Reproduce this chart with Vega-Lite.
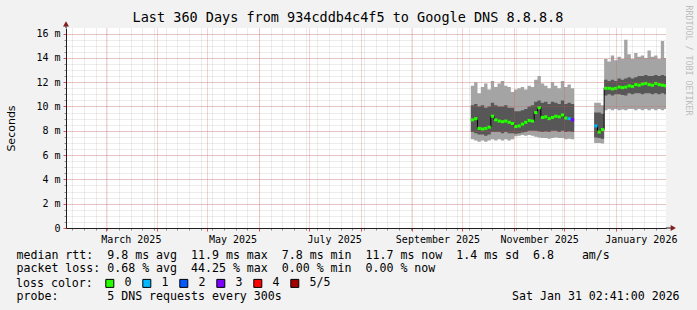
{
  "$schema": "https://vega.github.io/schema/vega-lite/v6.json",
  "width": 600,
  "height": 200,
  "autosize": "none",
  "padding": {"left": 66, "top": 28, "right": 31, "bottom": 82},
  "background": "#f2f2f2",
  "title": {
    "text": "Last 360 Days from 934cddb4c4f5 to Google DNS 8.8.8.8",
    "font": "DejaVu Sans Mono",
    "fontSize": 13.5,
    "fontWeight": "normal",
    "color": "#000000",
    "anchor": "middle",
    "frame": "group",
    "dx": -18,
    "dy": 24,
    "offset": 5
  },
  "config": {
    "view": {"stroke": null, "fill": "#ffffff"},
    "axis": {"labelColor": "#000000", "titleColor": "#000000", "titleFontWeight": "normal"}
  },
  "datasets": {
    "smoke": [
      {"t": "2025-10-06", "seg": "a", "lo": 7.3, "lo2": 7.9, "med": 8.9, "hi2": 10.1, "hi": 11.7, "loss": "0"},
      {"t": "2025-10-08", "seg": "a", "lo": 7.2, "lo2": 7.8, "med": 9.0, "hi2": 10.2, "hi": 12.0, "loss": "0"},
      {"t": "2025-10-10", "seg": "a", "lo": 7.1, "lo2": 7.7, "med": 8.2, "hi2": 10.0, "hi": 11.1, "loss": "0"},
      {"t": "2025-10-12", "seg": "a", "lo": 7.2, "lo2": 7.7, "med": 8.15, "hi2": 10.1, "hi": 11.6, "loss": "0"},
      {"t": "2025-10-14", "seg": "a", "lo": 7.1, "lo2": 7.6, "med": 8.2, "hi2": 9.9, "hi": 11.9, "loss": "0"},
      {"t": "2025-10-16", "seg": "a", "lo": 7.2, "lo2": 7.7, "med": 8.3, "hi2": 10.0, "hi": 11.4, "loss": "0"},
      {"t": "2025-10-18", "seg": "a", "lo": 7.3, "lo2": 7.9, "med": 9.2, "hi2": 10.3, "hi": 12.1, "loss": "0"},
      {"t": "2025-10-20", "seg": "a", "lo": 7.2, "lo2": 7.9, "med": 8.9, "hi2": 10.1, "hi": 11.6, "loss": "0"},
      {"t": "2025-10-22", "seg": "a", "lo": 7.3, "lo2": 7.9, "med": 8.8, "hi2": 10.0, "hi": 11.9, "loss": "0"},
      {"t": "2025-10-24", "seg": "a", "lo": 7.2, "lo2": 7.8, "med": 8.75, "hi2": 10.0, "hi": 12.1, "loss": "0"},
      {"t": "2025-10-26", "seg": "a", "lo": 7.3, "lo2": 7.9, "med": 8.8, "hi2": 10.1, "hi": 11.7, "loss": "0"},
      {"t": "2025-10-28", "seg": "a", "lo": 7.2, "lo2": 7.8, "med": 8.7, "hi2": 9.9, "hi": 11.6, "loss": "0"},
      {"t": "2025-10-30", "seg": "a", "lo": 7.3, "lo2": 7.8, "med": 8.6, "hi2": 9.9, "hi": 11.2, "loss": "0"},
      {"t": "2025-11-01", "seg": "a", "lo": 7.55, "lo2": 7.75, "med": 8.35, "hi2": 9.6, "hi": 11.4, "loss": "0"},
      {"t": "2025-11-03", "seg": "a", "lo": 7.6, "lo2": 7.8, "med": 8.4, "hi2": 9.6, "hi": 11.5, "loss": "0"},
      {"t": "2025-11-05", "seg": "a", "lo": 7.65, "lo2": 7.85, "med": 8.55, "hi2": 9.7, "hi": 11.6, "loss": "0"},
      {"t": "2025-11-07", "seg": "a", "lo": 7.6, "lo2": 7.9, "med": 8.7, "hi2": 9.8, "hi": 11.4, "loss": "0"},
      {"t": "2025-11-09", "seg": "a", "lo": 7.65, "lo2": 8.0, "med": 8.85, "hi2": 10.0, "hi": 11.7, "loss": "0"},
      {"t": "2025-11-11", "seg": "a", "lo": 7.6, "lo2": 8.0, "med": 8.8, "hi2": 10.1, "hi": 11.6, "loss": "0"},
      {"t": "2025-11-13", "seg": "a", "lo": 7.5, "lo2": 8.0, "med": 9.5, "hi2": 10.4, "hi": 12.2, "loss": "0"},
      {"t": "2025-11-15", "seg": "a", "lo": 7.45, "lo2": 7.95, "med": 9.9, "hi2": 10.5, "hi": 12.5, "loss": "0"},
      {"t": "2025-11-17", "seg": "a", "lo": 7.4, "lo2": 7.9, "med": 9.1, "hi2": 10.3, "hi": 11.9, "loss": "0"},
      {"t": "2025-11-19", "seg": "a", "lo": 7.4, "lo2": 7.95, "med": 9.15, "hi2": 10.4, "hi": 11.7, "loss": "0"},
      {"t": "2025-11-21", "seg": "a", "lo": 7.35, "lo2": 7.9, "med": 9.0, "hi2": 10.2, "hi": 11.5, "loss": "0"},
      {"t": "2025-11-23", "seg": "a", "lo": 7.4, "lo2": 8.0, "med": 9.1, "hi2": 10.4, "hi": 12.0, "loss": "0"},
      {"t": "2025-11-25", "seg": "a", "lo": 7.45, "lo2": 8.0, "med": 9.2, "hi2": 10.3, "hi": 11.7, "loss": "0"},
      {"t": "2025-11-27", "seg": "a", "lo": 7.4, "lo2": 7.9, "med": 9.15, "hi2": 10.2, "hi": 11.5, "loss": "0"},
      {"t": "2025-11-29", "seg": "a", "lo": 7.4, "lo2": 8.0, "med": 9.3, "hi2": 10.5, "hi": 12.1, "loss": "0"},
      {"t": "2025-12-01", "seg": "a", "lo": 7.3, "lo2": 7.9, "med": 9.05, "hi2": 10.2, "hi": 11.6, "loss": "0"},
      {"t": "2025-12-03", "seg": "a", "lo": 7.35, "lo2": 7.95, "med": 9.0, "hi2": 10.3, "hi": 11.8, "loss": "1"},
      {"t": "2025-12-05", "seg": "a", "lo": 7.3, "lo2": 7.9, "med": 8.9, "hi2": 10.2, "hi": 11.5, "loss": "3"},
      {"t": "2025-12-07", "seg": "a", "lo": 7.3, "lo2": 7.9, "med": null, "hi2": 10.2, "hi": 11.5, "loss": null},
      {"t": "2025-12-19", "seg": "b", "lo": 7.0, "lo2": 7.45, "med": 8.4, "hi2": 9.5, "hi": 10.3, "loss": "1"},
      {"t": "2025-12-21", "seg": "b", "lo": 7.0, "lo2": 7.4, "med": 7.9, "hi2": 9.5, "hi": 10.3, "loss": "0"},
      {"t": "2025-12-23", "seg": "b", "lo": 6.95, "lo2": 7.35, "med": 8.1, "hi2": 9.4, "hi": 10.1, "loss": "0"},
      {"t": "2025-12-25", "seg": "b", "lo": 9.7, "lo2": 10.9, "med": 11.5, "hi2": 12.2, "hi": 13.9, "loss": "0"},
      {"t": "2025-12-27", "seg": "b", "lo": 9.8, "lo2": 11.0, "med": 11.5, "hi2": 12.1, "hi": 13.7, "loss": "0"},
      {"t": "2025-12-29", "seg": "b", "lo": 9.7, "lo2": 10.9, "med": 11.45, "hi2": 12.2, "hi": 14.2, "loss": "0"},
      {"t": "2025-12-31", "seg": "b", "lo": 9.8, "lo2": 11.0, "med": 11.5, "hi2": 12.1, "hi": 13.8, "loss": "0"},
      {"t": "2026-01-02", "seg": "b", "lo": 9.7, "lo2": 11.0, "med": 11.6, "hi2": 12.3, "hi": 14.1, "loss": "0"},
      {"t": "2026-01-04", "seg": "b", "lo": 9.75, "lo2": 10.95, "med": 11.55, "hi2": 12.2, "hi": 13.9, "loss": "0"},
      {"t": "2026-01-06", "seg": "b", "lo": 9.7, "lo2": 10.9, "med": 11.6, "hi2": 12.3, "hi": 15.5, "loss": "0"},
      {"t": "2026-01-08", "seg": "b", "lo": 9.8, "lo2": 11.1, "med": 11.7, "hi2": 12.4, "hi": 14.3, "loss": "0"},
      {"t": "2026-01-10", "seg": "b", "lo": 9.8, "lo2": 11.0, "med": 11.65, "hi2": 12.3, "hi": 13.9, "loss": "0"},
      {"t": "2026-01-12", "seg": "b", "lo": 9.7, "lo2": 11.1, "med": 11.8, "hi2": 12.4, "hi": 14.4, "loss": "0"},
      {"t": "2026-01-14", "seg": "b", "lo": 9.8, "lo2": 11.1, "med": 11.75, "hi2": 12.5, "hi": 14.1, "loss": "0"},
      {"t": "2026-01-16", "seg": "b", "lo": 9.7, "lo2": 11.0, "med": 11.85, "hi2": 12.5, "hi": 14.2, "loss": "0"},
      {"t": "2026-01-18", "seg": "b", "lo": 9.8, "lo2": 11.1, "med": 11.9, "hi2": 12.6, "hi": 14.0, "loss": "0"},
      {"t": "2026-01-20", "seg": "b", "lo": 9.7, "lo2": 11.1, "med": 11.8, "hi2": 12.5, "hi": 14.6, "loss": "0"},
      {"t": "2026-01-22", "seg": "b", "lo": 9.8, "lo2": 11.0, "med": 11.75, "hi2": 12.5, "hi": 14.1, "loss": "0"},
      {"t": "2026-01-24", "seg": "b", "lo": 9.7, "lo2": 11.1, "med": 11.9, "hi2": 12.6, "hi": 14.2, "loss": "0"},
      {"t": "2026-01-26", "seg": "b", "lo": 9.8, "lo2": 11.0, "med": 11.8, "hi2": 12.5, "hi": 13.9, "loss": "0"},
      {"t": "2026-01-28", "seg": "b", "lo": 9.7, "lo2": 11.1, "med": 11.75, "hi2": 12.6, "hi": 15.4, "loss": "0"},
      {"t": "2026-01-30", "seg": "b", "lo": 9.8, "lo2": 11.0, "med": 11.7, "hi2": 12.5, "hi": 14.0, "loss": "0"},
      {"t": "2026-01-31T02:41:00Z", "seg": "b", "lo": 9.8, "lo2": 11.0, "med": null, "hi2": 12.5, "hi": 14.0, "loss": null}
    ],
    "arrows": [
      {"dir": "up", "t": "2025-02-05T02:41:00Z", "v": 16.46, "t2": "2025-02-05T02:41:00Z", "v2": 16.8},
      {"dir": "right", "t": "2026-01-31T02:41:00Z", "v": 0, "t2": "2026-02-04T12:00:00Z", "v2": 0}
    ]
  },
  "layer": [
    {
      "data": {"name": "smoke"},
      "mark": {"type": "area", "interpolate": "step-after", "color": "#a4a4a4", "opacity": 1},
      "encoding": {
        "x": {
          "field": "t", "type": "temporal",
          "scale": {"type": "utc", "domain": [{"year": 2025, "month": 2, "date": 5, "hours": 2, "minutes": 41, "utc": true}, {"year": 2026, "month": 1, "date": 31, "hours": 2, "minutes": 41, "utc": true}]},
          "axis": {
            "orient": "bottom",
            "tickCount": {"interval": "week", "step": 1},
            "grid": true, "gridColor": "#8f8f8f", "gridOpacity": 0.35, "gridDash": [1, 1],
            "labels": false, "domain": false,
            "ticks": true, "tickColor": "#8f8f8f", "tickSize": 2,
            "zindex": 0,
            "title": "median rtt:\u00a0 9.8 ms avg\u00a0 11.9 ms max\u00a0 7.8 ms min\u00a0 11.7 ms now\u00a0 1.4 ms sd\u00a0 6.8\u00a0\u00a0\u00a0 am/s",
            "titleX": -50, "titleY": 21,
            "titleAlign": "left", "titleBaseline": "top",
            "titleFont": "DejaVu Sans Mono", "titleFontSize": 11.6, "titleLimit": 2000
          }
        },
        "y": {
          "field": "lo", "type": "quantitative",
          "scale": {"domain": [0, 16.46], "nice": false, "zero": true},
          "axis": {
            "orient": "left",
            "tickCount": 33,
            "grid": true, "gridColor": "#8f8f8f", "gridOpacity": 0.35, "gridDash": [1, 1],
            "labels": false, "domain": false,
            "ticks": true, "tickColor": "#8f8f8f", "tickSize": 2,
            "title": null, "zindex": 0
          }
        },
        "y2": {"field": "hi"},
        "detail": {"field": "seg"}
      }
    },
    {
      "data": {"name": "smoke"},
      "mark": {"type": "area", "interpolate": "step-after", "color": "#575757", "opacity": 1},
      "encoding": {
        "x": {
          "field": "t", "type": "temporal",
          "axis": {
            "orient": "bottom",
            "tickCount": {"interval": "month", "step": 1},
            "grid": true, "gridColor": "#de4f4f", "gridOpacity": 0.5, "gridDash": [1, 1],
            "labelExpr": "utcmonth(datum.value) % 2 == 0 ? utcFormat(datum.value, '%B %Y') : ''",
            "labelOffset": 25, "labelOverlap": false, "labelFlush": false, "labelBound": false,
            "labelPadding": 3, "labelBaseline": "top",
            "labelFont": "DejaVu Sans Mono", "labelFontSize": 10,
            "domain": true, "domainColor": "#1f1f1f", "domainWidth": 1,
            "ticks": true, "tickColor": "#de4f4f", "tickSize": 3,
            "title": "packet loss: 0.68 % avg\u00a0 44.25 % max\u00a0 0.00 % min\u00a0 0.00 % now",
            "titleX": -50, "titleY": 34.9,
            "titleAlign": "left", "titleBaseline": "top",
            "titleFont": "DejaVu Sans Mono", "titleFontSize": 11.6, "titleLimit": 2000,
            "zindex": 1
          }
        },
        "y": {
          "field": "lo2", "type": "quantitative",
          "axis": {
            "orient": "left",
            "values": [0, 2, 4, 6, 8, 10, 12, 14, 16],
            "grid": true, "gridColor": "#de4f4f", "gridOpacity": 0.5, "gridDash": [1, 1],
            "labelExpr": "datum.value == 0 ? '0' : datum.value + ' m'",
            "labelFont": "DejaVu Sans Mono", "labelFontSize": 10, "labelPadding": 3,
            "domain": true, "domainColor": "#1f1f1f",
            "ticks": true, "tickColor": "#de4f4f", "tickSize": 3,
            "title": "Seconds",
            "titleFont": "DejaVu Sans", "titleFontSize": 11,
            "titleX": -55, "titleY": 100, "titleAngle": 270,
            "titleAlign": "center", "titleBaseline": "middle",
            "zindex": 1
          }
        },
        "y2": {"field": "hi2"},
        "detail": {"field": "seg"}
      }
    },
    {
      "data": {"name": "smoke"},
      "mark": {"type": "line", "interpolate": "step-after", "color": "#000000", "strokeWidth": 1},
      "encoding": {
        "x": {
          "field": "t", "type": "temporal",
          "axis": {
            "orient": "bottom",
            "grid": false, "labels": false, "ticks": false, "domain": false,
            "title": "probe:\u00a0\u00a0\u00a0\u00a0\u00a0\u00a0 5 DNS requests every 300s\u00a0\u00a0\u00a0\u00a0\u00a0\u00a0\u00a0\u00a0\u00a0\u00a0\u00a0\u00a0\u00a0\u00a0\u00a0\u00a0\u00a0\u00a0\u00a0\u00a0\u00a0\u00a0\u00a0\u00a0\u00a0\u00a0\u00a0\u00a0\u00a0\u00a0\u00a0\u00a0 Sat Jan 31 02:41:00 2026",
            "titleX": -50, "titleY": 62.5,
            "titleAlign": "left", "titleBaseline": "top",
            "titleFont": "DejaVu Sans Mono", "titleFontSize": 11.6, "titleLimit": 2000
          }
        },
        "y": {
          "field": "med", "type": "quantitative",
          "axis": {
            "orient": "right",
            "grid": false, "labels": false, "ticks": false, "domain": false,
            "title": "RRDTOOL / TOBI OETIKER",
            "titleAngle": 90, "titleX": 21, "titleY": 32,
            "titleAlign": "center", "titleBaseline": "middle",
            "titleFont": "DejaVu Sans Mono", "titleFontSize": 8.3, "titleColor": "#bdbdbd"
          }
        },
        "detail": {"field": "seg"}
      }
    },
    {
      "data": {"name": "smoke"},
      "transform": [{"filter": "datum.loss != null"}],
      "mark": {"type": "tick", "orient": "horizontal", "size": 3.4, "thickness": 3, "xOffset": 1.67, "opacity": 1, "clip": true},
      "encoding": {
        "x": {"field": "t", "type": "temporal", "axis": null},
        "y": {"field": "med", "type": "quantitative", "axis": null},
        "color": {
          "field": "loss", "type": "nominal",
          "scale": {"domain": ["0", "1", "2", "3", "4", "5/5"], "range": ["#26ff00", "#00b8ff", "#0059ff", "#7e00ff", "#ff0000", "#a10000"]},
          "legend": {
            "title": "loss color:", "titleOrient": "left", "titlePadding": 11,
            "titleFont": "DejaVu Sans Mono", "titleFontSize": 11.6, "titleFontWeight": "normal", "titleColor": "#000000",
            "titleBaseline": "middle", "titleAnchor": "middle",
            "orient": "none", "legendX": -50, "legendY": 249.5,
            "direction": "horizontal", "columns": 6,
            "symbolType": "square", "symbolSize": 64,
            "symbolStrokeColor": "#000000", "symbolStrokeWidth": 1, "symbolOpacity": 1,
            "labelFont": "DejaVu Sans Mono", "labelFontSize": 11.6, "labelColor": "#000000",
            "labelOffset": 9, "columnPadding": 8
          }
        }
      }
    },
    {
      "data": {"name": "arrows"},
      "mark": {"type": "rule", "color": "#1f1f1f", "strokeWidth": 1},
      "encoding": {
        "x": {"field": "t", "type": "temporal", "axis": null},
        "x2": {"field": "t2"},
        "y": {"field": "v", "type": "quantitative", "axis": null},
        "y2": {"field": "v2"}
      }
    },
    {
      "data": {"name": "arrows"},
      "mark": {"type": "point", "filled": true, "color": "#801f1f", "opacity": 1, "size": 36},
      "encoding": {
        "x": {"field": "t2", "type": "temporal", "axis": null},
        "y": {"field": "v2", "type": "quantitative", "axis": null},
        "shape": {"field": "dir", "type": "nominal", "scale": {"domain": ["up", "right"], "range": ["triangle-up", "triangle-right"]}, "legend": null}
      }
    }
  ],
  "resolve": {"axis": {"x": "independent", "y": "independent"}}
}
